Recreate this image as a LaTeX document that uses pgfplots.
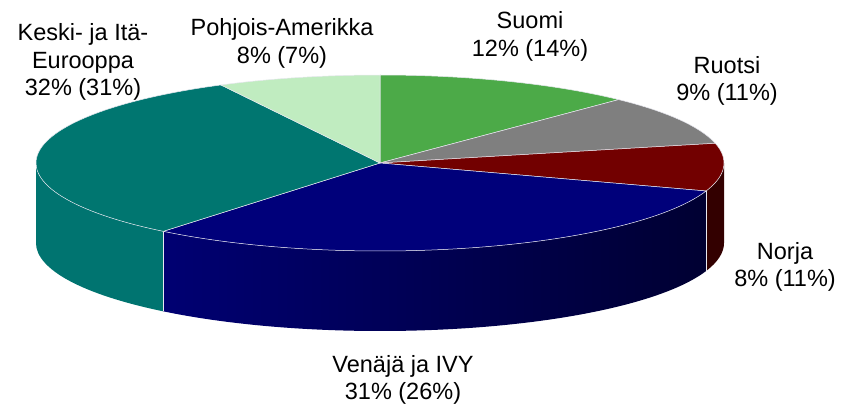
\documentclass[border=0pt]{standalone}
\usepackage{pgfplots}
\pgfplotsset{compat=1.18}
\usepackage{fontspec}
\setmainfont{Liberation Sans}
\definecolor{cSuomi}{HTML}{4CAA48}
\definecolor{cRuotsi}{HTML}{7F7F7F}
\definecolor{cNorja}{HTML}{720000}
\definecolor{cNorjaS}{HTML}{330000}
\definecolor{cVen}{HTML}{00007A}
\definecolor{cVenL}{HTML}{000072}
\definecolor{cVenR}{HTML}{000032}
\definecolor{cKeski}{HTML}{007670}
\definecolor{cKeskiS}{HTML}{007470}
\definecolor{cPohj}{HTML}{C0ECC0}
\definecolor{edge}{HTML}{E8E8F0}
\tikzset{lbl/.style={font=\fontsize{23.5}{27.5}\selectfont,align=center,inner sep=0pt,text=black}}
\begin{document}
\begin{tikzpicture}
% shares in percent
\def\vSuomi{12.2}
\def\vRuotsi{9.2}
\def\vNorja{8.75}
\def\vVen{30.7}
\def\vKeski{31.5}
\def\vPohj{7.65}
\pgfmathsetmacro\aA{90}
\pgfmathsetmacro\aB{\aA-3.6*\vSuomi}
\pgfmathsetmacro\aC{\aB-3.6*\vRuotsi}
\pgfmathsetmacro\aD{\aC-3.6*\vNorja}
\pgfmathsetmacro\aE{\aD-3.6*\vVen}
\pgfmathsetmacro\aF{\aE-3.6*\vKeski}
\pgfmathsetmacro\aG{\aF-3.6*\vPohj}
\useasboundingbox (0,0) rectangle (842pt,405pt);
\begin{axis}[x=1pt,y=1pt,xmin=0,xmax=842,ymin=0,ymax=405,hide axis,clip=false]
% side faces
\fill[cKeskiS] (axis cs:380,242) ++(-180:344pt and 88pt) arc[start angle=-180,end angle=\aE,x radius=344pt,y radius=88pt] -- ++(0,-80pt) arc[start angle=\aE,end angle=-180,x radius=344pt,y radius=88pt] -- cycle;
\shade[left color=cVenL,right color=cVenR] (axis cs:380,242) ++(\aE:344pt and 88pt) arc[start angle=\aE,end angle=\aD,x radius=344pt,y radius=88pt] -- ++(0,-80pt) arc[start angle=\aD,end angle=\aE,x radius=344pt,y radius=88pt] -- cycle;
\fill[cNorjaS] (axis cs:380,242) ++(\aD:344pt and 88pt) arc[start angle=\aD,end angle=0,x radius=344pt,y radius=88pt] -- ++(0,-80pt) arc[start angle=0,end angle=\aD,x radius=344pt,y radius=88pt] -- cycle;
\draw[edge,line width=0.5pt] (axis cs:380,242) ++(\aE:344pt and 88pt) -- ++(0,-80pt);
\draw[edge,line width=0.5pt] (axis cs:380,242) ++(\aD:344pt and 88pt) -- ++(0,-80pt);
% top faces
\filldraw[fill=cSuomi,draw=edge,line width=0.5pt] (axis cs:380,242) -- ++(\aA:344pt and 88pt) arc[start angle=\aA,end angle=\aB,x radius=344pt,y radius=88pt] -- cycle;
\filldraw[fill=cRuotsi,draw=edge,line width=0.5pt] (axis cs:380,242) -- ++(\aB:344pt and 88pt) arc[start angle=\aB,end angle=\aC,x radius=344pt,y radius=88pt] -- cycle;
\filldraw[fill=cNorja,draw=edge,line width=0.5pt] (axis cs:380,242) -- ++(\aC:344pt and 88pt) arc[start angle=\aC,end angle=\aD,x radius=344pt,y radius=88pt] -- cycle;
\filldraw[fill=cVen,draw=edge,line width=0.5pt] (axis cs:380,242) -- ++(\aD:344pt and 88pt) arc[start angle=\aD,end angle=\aE,x radius=344pt,y radius=88pt] -- cycle;
\filldraw[fill=cKeski,draw=edge,line width=0.5pt] (axis cs:380,242) -- ++(\aE:344pt and 88pt) arc[start angle=\aE,end angle=\aF,x radius=344pt,y radius=88pt] -- cycle;
\filldraw[fill=cPohj,draw=edge,line width=0.5pt] (axis cs:380,242) -- ++(\aF:344pt and 88pt) arc[start angle=\aF,end angle=\aG,x radius=344pt,y radius=88pt] -- cycle;
% labels
\node[lbl] at (axis cs:83,343) {Keski- ja Itä-\\Eurooppa\\32\% (31\%)};
\node[lbl] at (axis cs:282,361.5) {Pohjois-Amerikka\\8\% (7\%)};
\node[lbl] at (axis cs:530,368.5) {Suomi\\12\% (14\%)};
\node[lbl] at (axis cs:727,324) {Ruotsi\\9\% (11\%)};
\node[lbl] at (axis cs:785,138) {Norja\\8\% (11\%)};
\node[lbl] at (axis cs:403,25) {Venäjä ja IVY\\31\% (26\%)};
\end{axis}
\end{tikzpicture}
\end{document}
